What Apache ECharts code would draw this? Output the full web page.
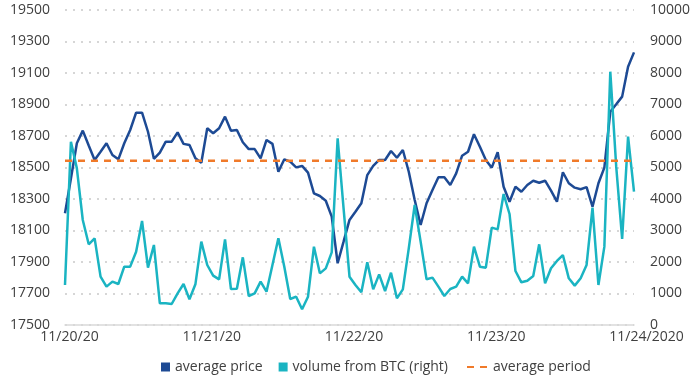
<!DOCTYPE html>
<html><head><meta charset="utf-8">
<script src="https://cdn.jsdelivr.net/npm/echarts@6/dist/echarts.min.js"></script>
<style>html,body{margin:0;padding:0;background:#fff}#c{width:696px;height:385px}</style>
</head><body><div id="c"></div>
<script>
// Day tick labels (x axis)
const dayLabels = ['11/20/20', '11/21/20', '11/22/20', '11/23/20', '11/24/2020'];

// Hourly average price (left axis), 11/20 00:00 .. 11/24 00:00
const averagePrice = [
  18210, 18430, 18654, 18734, 18640, 18548, 18600, 18654, 18579, 18552, 18654, 18738,
  18848, 18848, 18727, 18555, 18595, 18664, 18664, 18723, 18650, 18643, 18558, 18530,
  18749, 18717, 18749, 18823, 18734, 18738, 18660, 18617, 18617, 18558, 18675, 18650,
  18473, 18552, 18537, 18501, 18510, 18467, 18336, 18319, 18289, 18188, 17892, 18029,
  18167, 18219, 18273, 18452, 18510, 18548, 18548, 18605, 18562, 18611, 18473, 18294,
  18135, 18273, 18357, 18438, 18438, 18389, 18463, 18575, 18600, 18711, 18632, 18548,
  18499, 18597, 18378, 18283, 18378, 18346, 18389, 18416, 18403, 18416, 18353, 18283,
  18470, 18400, 18372, 18362, 18375, 18251, 18400, 18499, 18854, 18901, 18950, 19140,
  19231
];

// Hourly volume from BTC (right axis)
const volumeBTC = [
  1270, 5819, 4974, 3333, 2561, 2751, 1534, 1217, 1376, 1302, 1852, 1852,
  2328, 3302, 1820, 2540, 689, 689, 667, 1006, 1302, 816, 1292, 2646,
  1905, 1566, 1450, 2720, 1143, 1153, 2148, 921, 1006, 1376, 1058, 1905,
  2751, 1852, 825, 899, 497, 899, 2487, 1640, 1799, 2307, 5926, 3700,
  1534, 1270, 1037, 1990, 1132, 1608, 1079, 1661, 847, 1132, 2434, 3810,
  2646, 1450, 1503, 1217, 921, 1143, 1217, 1534, 1323, 2487, 1852, 1820,
  3090, 3037, 4159, 3524, 1714, 1355, 1407, 1556, 2561, 1323, 1799, 2032,
  2222, 1482, 1249, 1482, 1905, 3725, 1270, 2487, 8042, 5027, 2730, 5979,
  4233
];

// Average over the period
const averagePeriod = 18543;

// Axis ranges
const leftAxis = { min: 17500, max: 19500, interval: 200 };
const rightAxis = { min: 0, max: 10000, interval: 1000 };

const categories = [];
for (let d = 0; d < 4; d++) {
  for (let h = 0; h < 24; h++) categories.push(dayLabels[d] + ' ' + String(h).padStart(2, '0') + ':00');
}
categories.push(dayLabels[4] + ' 00:00');
const avgLine = categories.map(() => averagePeriod);

const FONT = "'Open Sans', sans-serif";
const TXT = '#404040';
const C_PRICE = '#1d4a94', C_VOL = '#1ab4c2', C_AVG = '#f07a2a';

const chart = echarts.init(document.getElementById('c'), null, { renderer: 'canvas' });
chart.setOption({
  animation: false,
  backgroundColor: '#fff',
  textStyle: { fontFamily: FONT },
  grid: { left: 65, right: 62, top: 10, bottom: 60, containLabel: false },
  legend: [
    {
      data: ['average price', 'volume from BTC (right)'],
      left: 161, top: 360, padding: 0,
      icon: 'rect', itemWidth: 9, itemHeight: 9, itemGap: 16,
      textStyle: { fontFamily: FONT, fontSize: 14, color: TXT }
    },
    {
      data: ['average period'],
      left: 466, top: 360, padding: 0,
      itemWidth: 21, itemHeight: 9,
      itemStyle: { opacity: 0 },
      textStyle: { fontFamily: FONT, fontSize: 14, color: TXT }
    }
  ],
  xAxis: {
    type: 'category', data: categories, boundaryGap: false,
    axisTick: { show: false },
    axisLine: { lineStyle: { color: '#d9d9d9', width: 1.5 } },
    splitLine: { show: false },
    axisLabel: {
      interval: (i) => i % 24 === 0,
      margin: 5,
      color: TXT, fontFamily: FONT, fontSize: 14,
      formatter: (v, i) => {
        const lab = v.split(' ')[0];
        return (i === categories.length - 1 ? '{e|' : '{d|') + lab + '}';
      },
      rich: {
        d: { padding: [0, 0, 0, 9], color: TXT, fontFamily: FONT, fontSize: 14 },
        e: { padding: [0, 0, 0, 25], color: TXT, fontFamily: FONT, fontSize: 14 }
      }
    }
  },
  yAxis: [
    {
      type: 'value', position: 'left',
      min: leftAxis.min, max: leftAxis.max, interval: leftAxis.interval,
      axisLine: { show: false }, axisTick: { show: false },
      axisLabel: { margin: 15, color: TXT, fontFamily: FONT, fontSize: 14, formatter: (v) => String(v) },
      splitLine: { show: true, lineStyle: { color: '#d6d6d6', width: 2, type: [2, 6] } }
    },
    {
      type: 'value', position: 'right',
      min: rightAxis.min, max: rightAxis.max, interval: rightAxis.interval,
      axisLine: { show: false }, axisTick: { show: false },
      axisLabel: { margin: 16, color: TXT, fontFamily: FONT, fontSize: 14, formatter: (v) => String(v) },
      splitLine: { show: false }
    }
  ],
  series: [
    {
      name: 'average price', type: 'line', yAxisIndex: 0, data: averagePrice,
      symbol: 'none', showSymbol: false,
      lineStyle: { color: C_PRICE, width: 2.5 }, itemStyle: { color: C_PRICE }
    },
    {
      name: 'volume from BTC (right)', type: 'line', yAxisIndex: 1, data: volumeBTC,
      symbol: 'none', showSymbol: false,
      lineStyle: { color: C_VOL, width: 2.5 }, itemStyle: { color: C_VOL }
    },
    {
      name: 'average period', type: 'line', yAxisIndex: 0, data: avgLine,
      symbol: 'none', showSymbol: false,
      lineStyle: { color: C_AVG, width: 2.5, type: [7, 6] }, itemStyle: { color: C_AVG }
    }
  ]
});
</script>
</body></html>
